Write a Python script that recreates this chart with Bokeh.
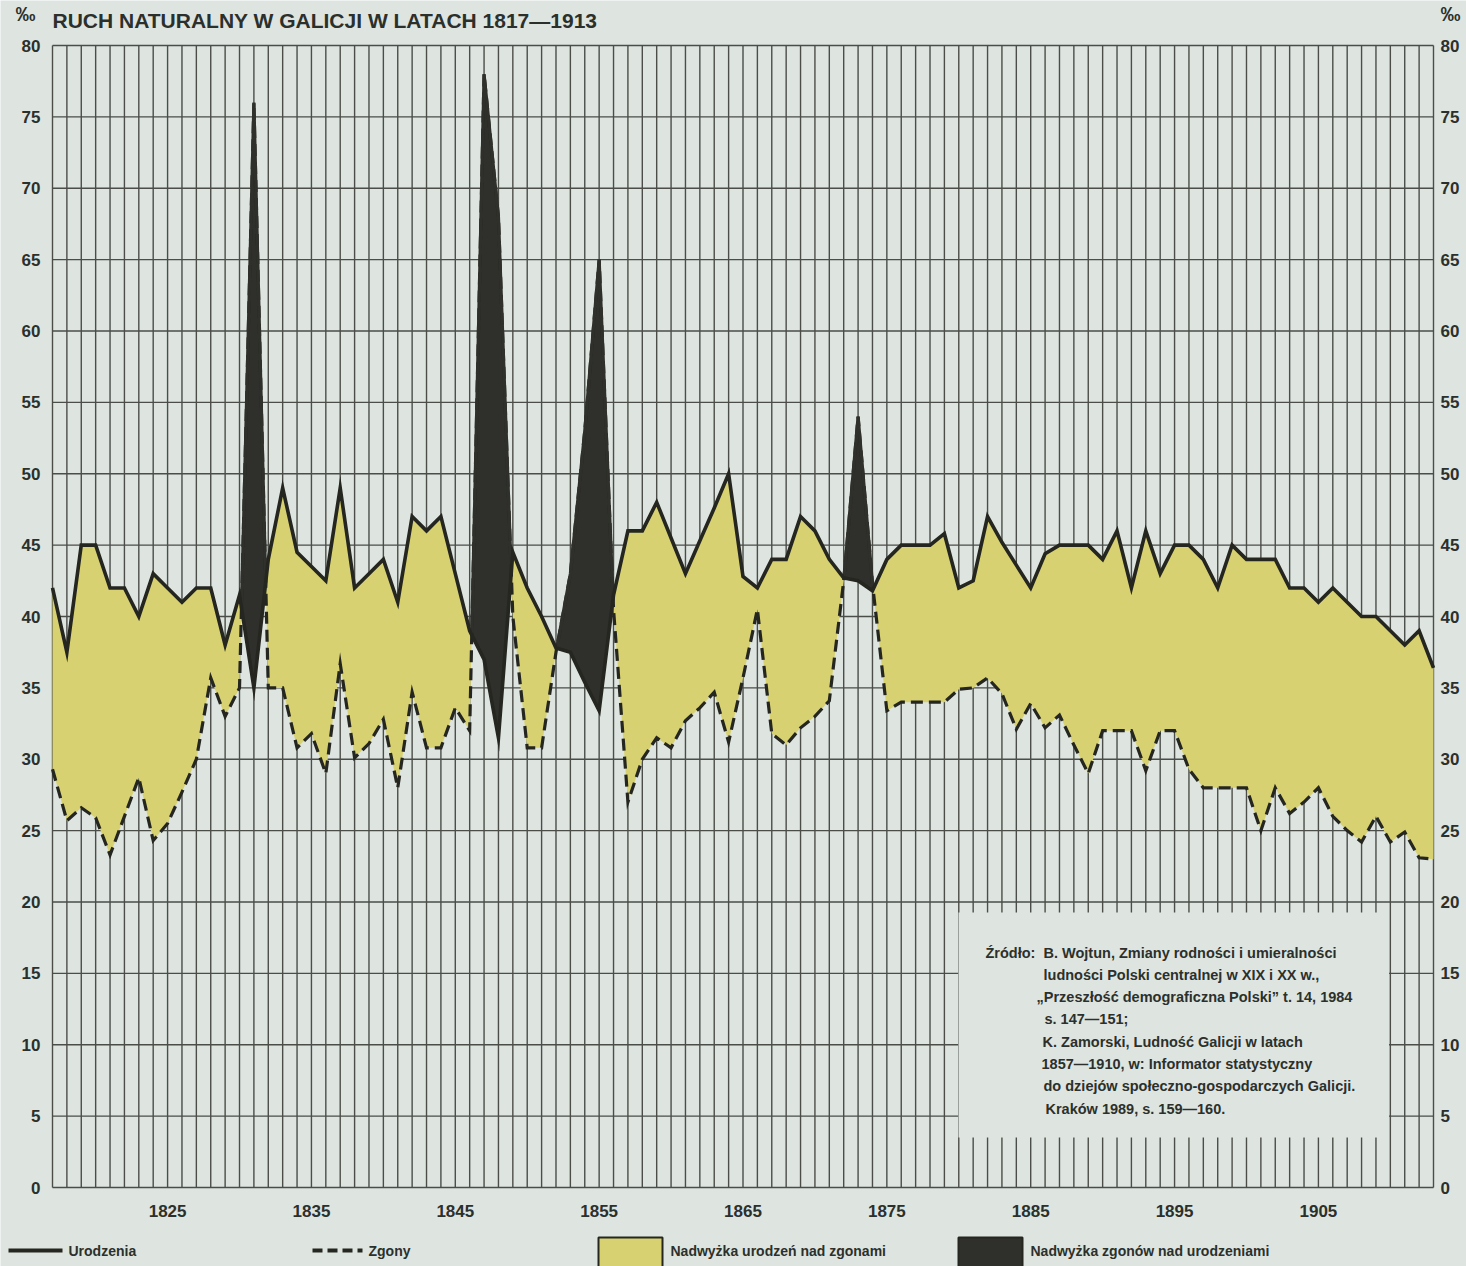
import numpy as np
from bokeh.plotting import figure
from bokeh.models import Range1d
from bokeh.embed import file_html
from bokeh.resources import INLINE
from bokeh.core.properties import value

# ---------------- data ----------------
years = list(range(1817, 1914))
births = [42, 37.5, 45, 45, 42, 42, 40, 43, 42, 41,
          42, 42, 38, 41.5, 35, 44, 49, 44.5, 43.5, 42.5,
          49, 42, 43, 44, 41, 47, 46, 47, 43, 39,
          37, 31.5, 44.5, 42, 40, 37.8, 37.5, 35.4, 33.4, 41.5,
          46, 46, 48, 45.5, 43, 45.3, 47.6, 50, 42.8, 42,
          44, 44, 47, 46, 44, 42.7, 42.5, 41.8, 44, 45,
          45, 45, 45.8, 42, 42.5, 47, 45.2, 43.6, 42, 44.4,
          45, 45, 45, 44, 46, 42, 46, 43, 45, 45,
          44, 42, 45, 44, 44, 44, 42, 42, 41, 42,
          41, 40, 40, 39, 38, 39, 36.4]
deaths = [29.3, 25.7, 26.6, 25.9, 23.3, 26, 28.7, 24.3, 25.5, 27.7,
          30, 35.7, 33, 35, 76, 35, 35, 30.8, 31.8, 29,
          36.7, 30.1, 31.1, 32.8, 28, 34.7, 30.8, 30.8, 33.6, 32,
          78, 68, 40, 30.8, 30.8, 37.5, 43, 53, 65, 40.5,
          27, 30, 31.5, 30.8, 32.7, 33.6, 34.7, 31.2, 35.7, 40.5,
          31.8, 31, 32.2, 33, 34.1, 42.5, 54, 42.3, 33.4, 34,
          34, 34, 34, 34.9, 35, 35.7, 34.6, 32.1, 33.9, 32.2,
          33.1, 31, 29, 32, 32, 32, 29.2, 32, 32, 29.3,
          28, 28, 28, 28, 25, 28, 26.2, 27, 28, 26,
          25, 24.2, 26, 24.2, 24.9, 23.1, 23]
x_ticks = [1825, 1835, 1845, 1855, 1865, 1875, 1885, 1895, 1905]
y_ticks = list(range(0, 81, 5))
title_text = "RUCH NATURALNY W GALICJI W LATACH 1817\u20141913"
unit_text = "\u2030"
source_lines = [
    "\u0179r\u00f3d\u0142o:",
    "B. Wojtun, Zmiany rodno\u015bci i umieralno\u015bci",
    "ludno\u015bci Polski centralnej w XIX i XX w.,",
    "\u201ePrzesz\u0142o\u015b\u0107 demograficzna Polski\u201d t. 14, 1984",
    "s. 147\u2014151;",
    "K. Zamorski, Ludno\u015b\u0107 Galicji w latach",
    "1857\u20141910, w: Informator statystyczny",
    "do dziej\u00f3w spo\u0142eczno-gospodarczych Galicji.",
    "Krak\u00f3w 1989, s. 159\u2014160.",
]
legend_labels = ["Urodzenia", "Zgony",
                 "Nadwy\u017cka urodze\u0144 nad zgonami",
                 "Nadwy\u017cka zgon\u00f3w nad urodzeniami"]

assert len(births) == len(years) and len(deaths) == len(years)

# ---------------- style / page geometry ----------------
BG = "#dee5e1"
YEL = "#d7d171"
BLK = "#2f302b"
INK = "#24261f"
GRID = "#4a4d48"
TXT = "#2b302c"
FONT = "Liberation Sans"
W, H = 1466, 1266
FX0, FX1, FY0, FY1 = 52, 1433, 45, 1187      # chart frame in page pixels
X0, X1, YMIN, YMAX = years[0], years[-1], 0, 80
SX = (FX1 - FX0) / (X1 - X0)
SY = (FY1 - FY0) / (YMAX - YMIN)


def X(px):
    return X0 + (px - FX0) / SX


def Y(py):
    return YMIN + (FY1 - py) / SY


# ---------------- fill geometry (crossings inserted) ----------------
xs, bs, ds = [], [], []
for i in range(len(years)):
    xs.append(years[i]); bs.append(births[i]); ds.append(deaths[i])
    if i < len(years) - 1:
        g0 = births[i] - deaths[i]
        g1 = births[i + 1] - deaths[i + 1]
        if g0 * g1 < 0:
            t = g0 / (g0 - g1)
            xc = years[i] + t
            yc = births[i] + t * (births[i + 1] - births[i])
            xs.append(xc); bs.append(yc); ds.append(yc)
xs = np.array(xs, dtype=float)
bs = np.array(bs, dtype=float)
ds = np.array(ds, dtype=float)
top = np.maximum(bs, ds)
# part of the deaths curve that bounds the dark (excess deaths) areas
ds_dark = np.where(ds >= bs - 1e-9, ds, np.nan)

# ---------------- figure ----------------
p = figure(width=W, height=H, x_range=Range1d(X(0), X(W)),
           y_range=Range1d(Y(H), Y(0)), output_backend="svg",
           toolbar_location=None, x_axis_location=None,
           y_axis_location=None, min_border=0)
p.background_fill_color = BG
p.border_fill_color = BG
p.outline_line_color = None
p.grid.visible = False

# grid (yearly verticals, every 5 per mille horizontals)
p.segment(x0=years, y0=[YMIN] * len(years), x1=years, y1=[YMAX] * len(years),
          line_color=GRID, line_width=1.4)
p.segment(x0=[X0] * len(y_ticks), y0=y_ticks, x1=[X1] * len(y_ticks),
          y1=y_ticks, line_color=GRID, line_width=1.4)

# fills
p.varea(x=xs, y1=ds, y2=top, fill_color=YEL, fill_alpha=1.0)
p.varea(x=xs, y1=bs, y2=top, fill_color=BLK, fill_alpha=1.0)

# source box (covers the grid)
p.quad(left=X(958), right=X(1388.5), bottom=Y(1137), top=Y(912),
       fill_color=BG, line_color=None)
src_x = [X(985)] + [X(1043)] * 2 + [X(1036)] + [X(1044), X(1042), X(1041), X(1043), X(1045)]
src_y = [Y(952 + 22.3 * k) for k in (0, 0, 1, 2, 3, 4, 5, 6, 7)]
p.text(x=src_x, y=src_y, text=source_lines, text_baseline="middle",
       text_align="left", text_font=value(FONT), text_font_style="bold",
       text_font_size="14.5px", text_color=TXT)

# series lines
p.line(years, deaths, line_color=INK, line_width=3.2, line_dash="12 6",
       line_join="miter")
p.line(xs, ds_dark, line_color=BLK, line_width=3.2, line_join="miter")
p.line(years, births, line_color=INK, line_width=3.6, line_join="miter")

# axis tick labels
lab = dict(text_font=value(FONT), text_font_style="bold",
           text_font_size="17px", text_color=TXT, text_baseline="middle")
p.text(x=[X(40)] * len(y_ticks), y=y_ticks, text=[str(v) for v in y_ticks],
       text_align="right", **lab)
p.text(x=[X(1440)] * len(y_ticks), y=y_ticks, text=[str(v) for v in y_ticks],
       text_align="left", **lab)
p.text(x=x_ticks, y=[Y(1210)] * len(x_ticks), text=[str(v) for v in x_ticks],
       text_align="center", **lab)

# title and per-mille units
p.text(x=[X(52)], y=[Y(20)], text=[title_text], text_baseline="alphabetic",
       text_font=value(FONT), text_font_style="bold",
       text_font_size="21px", text_color=TXT)
p.text(x=[X(25), X(1450)], y=[Y(13), Y(13)], text=[unit_text, unit_text],
       text_align="center", text_baseline="middle", text_font=value(FONT),
       text_font_style="bold", text_font_size="20px", text_color=TXT)

# legend
ly = Y(1250)
p.line([X(8), X(62)], [ly, ly], line_color=INK, line_width=3.8)
p.line([X(312), X(362)], [ly, ly], line_color=INK, line_width=3.8,
       line_dash="10 5")
p.quad(left=[X(598), X(958)], right=[X(662), X(1022)],
       top=[Y(1237), Y(1237)], bottom=[Y(1268), Y(1268)],
       fill_color=[YEL, BLK], line_color=INK, line_width=2)
p.text(x=[X(68), X(368), X(670), X(1030)], y=[ly] * 4, text=legend_labels,
       text_baseline="middle", text_font=value(FONT),
       text_font_style="bold", text_font_size="14px", text_color=TXT)

html = file_html(p, INLINE)
html = html.replace("<body>", '<body style="background-color:%s">' % BG, 1)
open("out.html", "w").write(html)
